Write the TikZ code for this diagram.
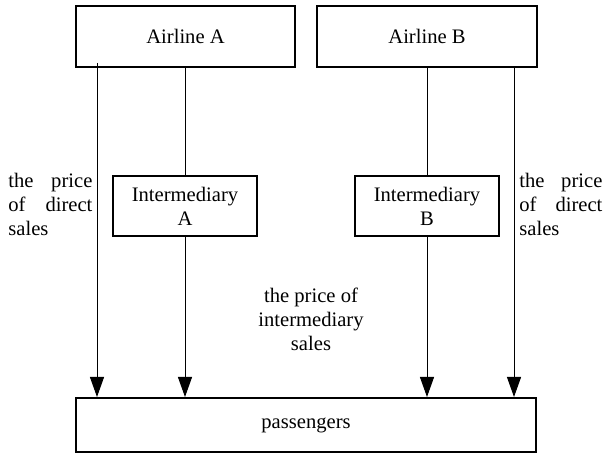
\documentclass[tikz,border=0pt]{standalone}
\usepackage{fontspec}
\setmainfont{Liberation Serif}
\usetikzlibrary{arrows.meta}
\tikzset{
  box/.style={draw, line width=1pt, inner sep=0pt},
  flow/.style={line width=0.5pt, -{Triangle[length=10pt,width=7pt]}},
  link/.style={line width=0.5pt},
  lbl/.style={inner sep=0pt, text width=42pt, align=left, anchor=north west}
}
\begin{document}
\begin{tikzpicture}[x=0.5pt, y=-0.5pt, font=\fontsize{10.3}{12}\selectfont]
\useasboundingbox (0,0) rectangle (604,453);
\node [box, minimum width=109.5pt, minimum height=30.5pt] (airA) at (185.5,36.5) {Airline A};
\node [box, minimum width=110pt, minimum height=30.5pt] (airB) at (427,36.5) {Airline B};
\node [box, minimum width=72pt, minimum height=30pt, align=center] (intA) at (185,206) {Intermediary\\A};
\node [box, minimum width=72pt, minimum height=30pt, align=center] (intB) at (427,206) {Intermediary\\B};
\node [box, minimum width=230pt, minimum height=27pt] (pass) at (306,425) {passengers};
\node [lbl] (dirA) at (8,173) {the\hfill price\\of\hfill direct\\sales};
\node [lbl, text width=41.5pt] (dirB) at (519,173) {the\hfill price\\of\hfill direct\\sales};
\node [inner sep=0pt, align=center, anchor=north] (inter) at (311,288) {the price of\\intermediary\\sales};
\coordinate (dA) at ([xshift=11pt,yshift=2.5pt]airA.south west);
\coordinate (dB) at ([xshift=-12pt]airB.south east);
\draw [flow] (dA) -- (dA |- pass.north);
\draw [link] (intA.north |- airA.south) -- (intA.north);
\draw [flow] (intA.south) -- (intA.south |- pass.north);
\draw [link] (intB.north |- airB.south) -- (intB.north);
\draw [flow] (intB.south) -- (intB.south |- pass.north);
\draw [flow] (dB) -- (dB |- pass.north);
\end{tikzpicture}
\end{document}
